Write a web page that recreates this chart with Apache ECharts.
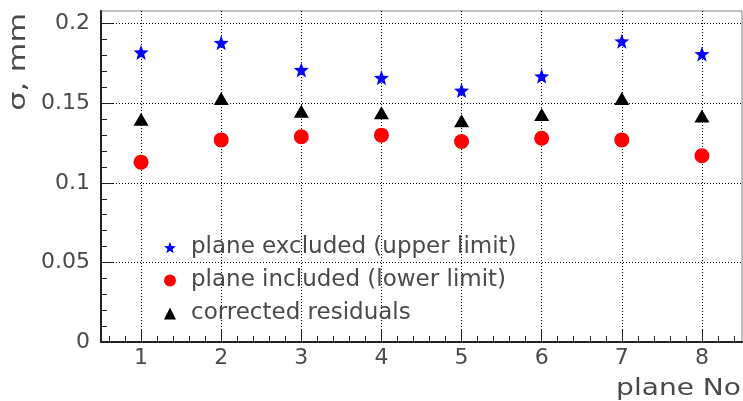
<!DOCTYPE html>
<html>
<head>
<meta charset="utf-8">
<script src="https://cdn.jsdelivr.net/npm/echarts@6/dist/echarts.min.js"></script>
<style>
  html, body { margin: 0; padding: 0; background: #fff; }
  #chart { width: 743px; height: 401px; }
</style>
</head>
<body>
<div id="chart"></div>
<script>
// Detector plane resolution per plane
const planes = [1, 2, 3, 4, 5, 6, 7, 8];
const excludedUpper = [0.182, 0.188, 0.171, 0.166, 0.158, 0.167, 0.189, 0.181];
const includedLower = [0.113, 0.127, 0.129, 0.130, 0.126, 0.128, 0.127, 0.117];
const correctedRes = [0.140, 0.153, 0.145, 0.144, 0.139, 0.143, 0.153, 0.142];
const yTickValues = [0, 0.05, 0.1, 0.15, 0.2];
const yTickLabels = ['0', '0.05', '0.1', '0.15', '0.2'];
const seriesNames = ['plane excluded (upper limit)', 'plane included (lower limit)', 'corrected residuals'];

// minor tick positions (every 0.2 on x, every 0.01 on y)
const xMinor = [];
for (let i = 3; i <= 42; i++) { if (i % 5 !== 0) xMinor.push(i / 5); }
const yMinor = [];
for (let i = 1; i <= 20; i++) { if (i % 5 !== 0) yMinor.push(i / 100); }

// five-point star outline
function starPath() {
  const pts = [];
  for (let i = 0; i < 10; i++) {
    const a = (-90 + 36 * i) * Math.PI / 180;
    const r = i % 2 === 0 ? 50 : 21;
    pts.push((50 + r * Math.cos(a)).toFixed(2) + ' ' + (50 + r * Math.sin(a)).toFixed(2));
  }
  return 'path://M' + pts.join(' L') + ' Z';
}
const STAR = starPath();

const FONT = '"DejaVu Sans", sans-serif';
const TXT = '#4a4a4a';
const AX = '#222';

const pairs = (ys) => planes.map((p, i) => [p, ys[i]]);

const chart = echarts.init(document.getElementById('chart'), null, { renderer: 'canvas' });
chart.setOption({
  animation: false,
  backgroundColor: '#fff',
  textStyle: { fontFamily: FONT },
  grid: {
    left: 101, right: 1, top: 11, bottom: 59,
    show: true, borderColor: '#808080', borderWidth: 1, backgroundColor: 'transparent'
  },
  xAxis: [
    {
      type: 'value', min: 0.5, max: 8.5,
      axisLine: { lineStyle: { color: AX, width: 2 } },
      axisTick: { inside: true, length: 12, customValues: planes, lineStyle: { color: AX, width: 1 } },
      axisLabel: { customValues: planes, fontSize: 22, color: TXT, margin: 5, fontFamily: FONT },
      splitLine: { show: true, lineStyle: { type: [1, 2], color: '#000', width: 1 } }
    },
    {
      type: 'value', min: 0.5, max: 8.5, position: 'bottom',
      axisLine: { show: false },
      axisTick: { inside: true, length: 6, customValues: xMinor, lineStyle: { color: AX, width: 1 } },
      axisLabel: { show: false },
      splitLine: { show: false }
    }
  ],
  yAxis: [
    {
      type: 'value', min: 0, max: 0.208,
      axisLine: { show: true, lineStyle: { color: AX, width: 2 } },
      axisTick: { show: true, inside: true, length: 12, customValues: yTickValues, lineStyle: { color: AX, width: 1 } },
      axisLabel: {
        customValues: yTickValues, fontSize: 22, color: TXT, margin: 11, fontFamily: FONT,
        formatter: (v) => yTickLabels[yTickValues.findIndex((t) => Math.abs(t - v) < 1e-9)]
      },
      splitLine: { show: true, lineStyle: { type: [1, 2], color: '#000', width: 1 } }
    },
    {
      type: 'value', min: 0, max: 0.208, position: 'left',
      axisLine: { show: false },
      axisTick: { show: true, inside: true, length: 6, customValues: yMinor, lineStyle: { color: AX, width: 1 } },
      axisLabel: { show: false },
      splitLine: { show: false }
    }
  ],
  legend: {
    orient: 'vertical', left: 159, top: 231,
    itemWidth: 12, itemHeight: 12, itemGap: 10,
    textStyle: { fontSize: 23, color: TXT, fontFamily: FONT, padding: [0, 0, 0, 10] },
    data: [
      { name: seriesNames[0], icon: STAR },
      { name: seriesNames[1], icon: 'circle' },
      { name: seriesNames[2], icon: 'triangle' }
    ]
  },
  series: [
    {
      name: seriesNames[0], type: 'scatter', symbol: STAR, symbolSize: 15,
      itemStyle: { color: '#0000ff', opacity: 1 }, data: pairs(excludedUpper)
    },
    {
      name: seriesNames[1], type: 'scatter', symbol: 'circle', symbolSize: 15,
      itemStyle: { color: '#ff0000', opacity: 1 }, data: pairs(includedLower)
    },
    {
      name: seriesNames[2], type: 'scatter', symbol: 'triangle', symbolSize: [15, 13],
      itemStyle: { color: '#000000', opacity: 1 }, data: pairs(correctedRes)
    }
  ],
  graphic: [
    {
      type: 'text', x: 19, y: 13, rotation: Math.PI / 2, scaleX: 1.32,
      style: {
        text: 'σ, mm', fontSize: 23, fontFamily: FONT, fill: TXT,
        align: 'right', verticalAlign: 'middle'
      }
    },
    {
      type: 'text', x: 741, y: 389, scaleX: 1.22,
      style: {
        text: 'plane No', fontSize: 23, fontFamily: FONT, fill: TXT,
        align: 'right', verticalAlign: 'middle'
      }
    }
  ]
});
</script>
</body>
</html>
